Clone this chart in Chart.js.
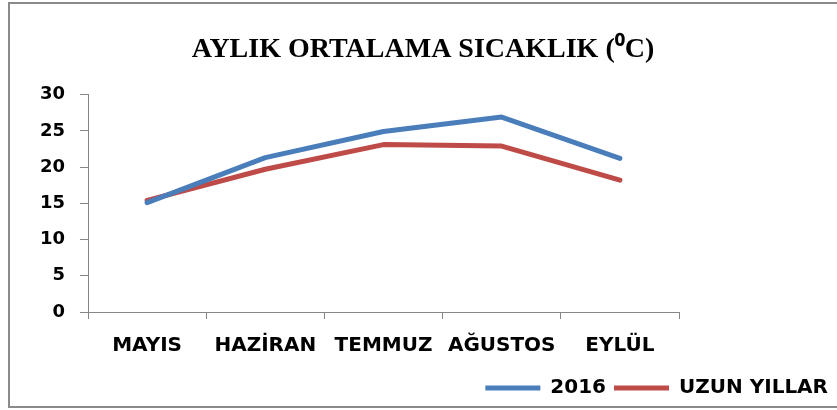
<!DOCTYPE html>
<html>
<head>
<meta charset="utf-8">
<script src="https://cdn.jsdelivr.net/npm/chart.js@4"></script>
<style>
  body { margin: 0; background: #fff; }
</style>
</head>
<body>
<canvas id="c" width="837" height="410"></canvas>
<script>
/* ── veri ─────────────────────────────── */
const months    = ['MAYIS', 'HAZİRAN', 'TEMMUZ', 'AĞUSTOS', 'EYLÜL'];
const temp2016  = [15.1, 21.3, 24.9, 26.9, 21.2];
const tempLong  = [15.4, 19.7, 23.1, 22.9, 18.2];
const titleText = 'AYLIK ORTALAMA SICAKLIK (⁰C)';

const axisGray = '#868686';
const bold = (size) => ({ family: "'DejaVu Sans', sans-serif", weight: 'bold', size });

// gri çerçeve (sağ kenar görünmüyor)
const frame = {
  id: 'frame',
  afterDraw(chart) {
    const ctx = chart.ctx;
    ctx.save();
    ctx.strokeStyle = '#8a8a8a';
    ctx.lineWidth = 2;
    ctx.beginPath();
    ctx.moveTo(840, 3); ctx.lineTo(9, 3); ctx.lineTo(9, 407); ctx.lineTo(840, 407);
    ctx.stroke();
    ctx.restore();
  }
};

new Chart('c', {
  type: 'line',
  data: {
    labels: months,
    datasets: [
      { label: '2016', data: temp2016, borderColor: '#4a7ebb', backgroundColor: '#4a7ebb',
        borderWidth: 5, pointRadius: 0, tension: 0, borderCapStyle: 'round', borderJoinStyle: 'round' },
      { label: 'UZUN YILLAR', data: tempLong, borderColor: '#be4b48', backgroundColor: '#be4b48',
        borderWidth: 5, pointRadius: 0, tension: 0, borderCapStyle: 'round', borderJoinStyle: 'round' }
    ]
  },
  options: {
    responsive: false, animation: false,
    layout: { padding: { left: 10, right: 1, top: 0, bottom: 2 } },
    plugins: {
      title: {
        display: true, text: titleText, color: '#000',
        font: { family: "'Liberation Serif', 'Times New Roman', serif", weight: 'bold', size: 28 },
        padding: { top: 33, bottom: 28 }
      },
      legend: {
        position: 'bottom', align: 'end',
        labels: {
          color: '#000', font: bold(20), boxWidth: 55, boxHeight: 5, padding: 8,
          generateLabels: chart => Chart.defaults.plugins.legend.labels.generateLabels(chart)
            .map(l => Object.assign(l, { lineWidth: 0 }))
        }
      },
      tooltip: { enabled: false }
    },
    scales: {
      x: {
        offset: true,
        border: { color: axisGray, width: 1 },
        grid: { drawOnChartArea: false, color: axisGray, tickLength: 7, offset: true },
        ticks: { color: '#000', font: bold(20), padding: 15, maxRotation: 0 },
        afterFit: s => { s.height = 58; }
      },
      y: {
        min: 0, max: 30,
        border: { color: axisGray, width: 1 },
        grid: { drawOnChartArea: false, color: axisGray, tickLength: 8 },
        ticks: { color: '#000', font: bold(18), stepSize: 5, padding: 15 },
        afterFit: s => { s.width = 78; }
      },
      // sağ boşluk: çizim alanını 679 px'de bitirir
      spacer: {
        type: 'linear', position: 'right', display: true,
        border: { display: false }, grid: { display: false }, ticks: { display: false },
        afterFit: s => { s.width = 157; }
      }
    }
  },
  plugins: [frame]
});
</script>
</body>
</html>
